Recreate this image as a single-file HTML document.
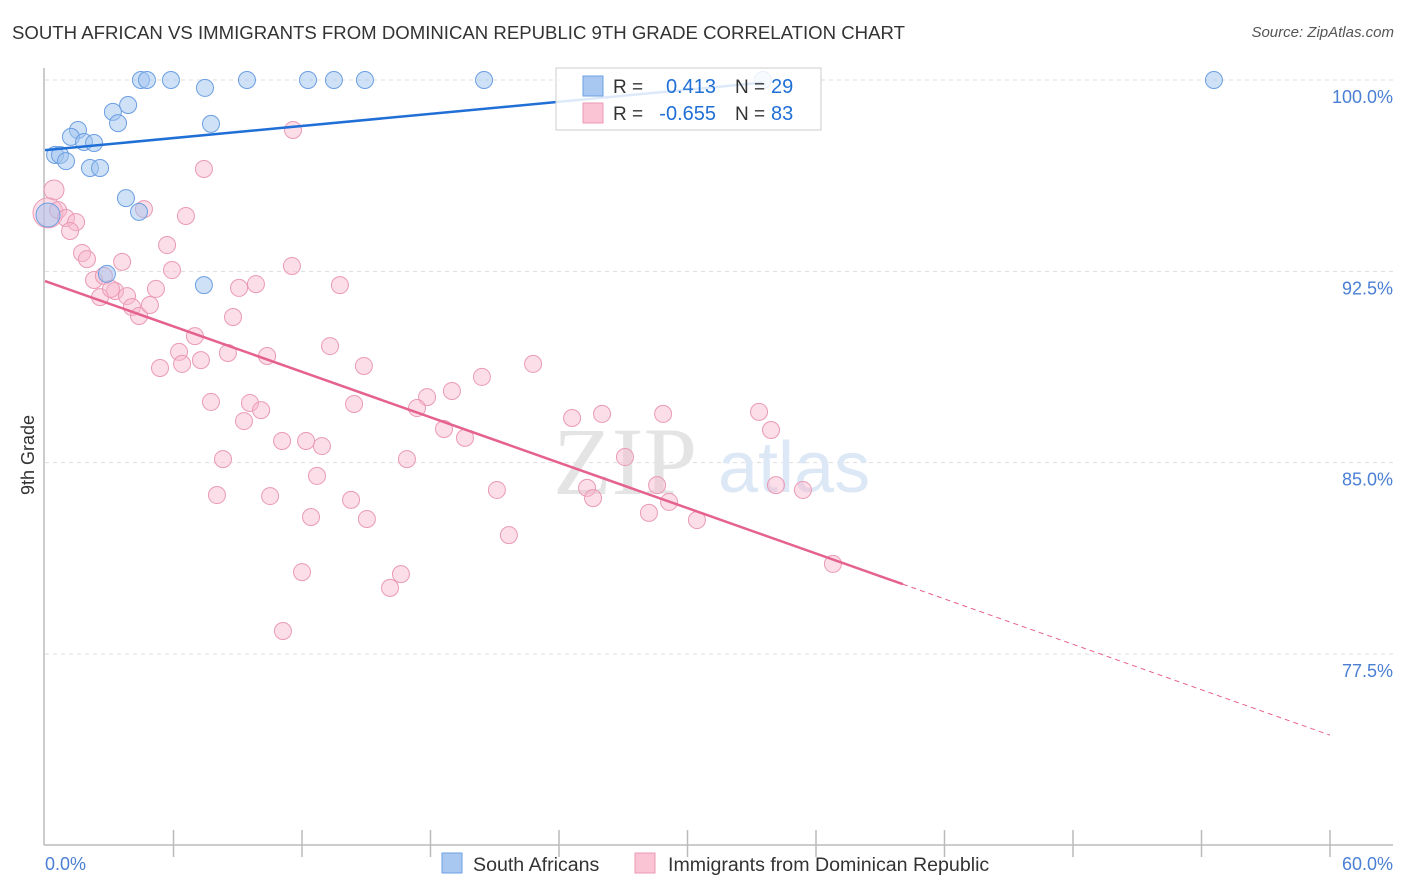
<!DOCTYPE html>
<html><head><meta charset="utf-8"><style>
body{margin:0;background:#fff;font-family:"Liberation Sans",sans-serif;}
#wrap{position:relative;width:1406px;height:892px;overflow:hidden;}
.t{position:absolute;white-space:nowrap;}
</style></head><body>
<div id="wrap">
<div class="t" style="left:12px;top:22px;font-size:18.6px;color:#333;">SOUTH AFRICAN VS IMMIGRANTS FROM DOMINICAN REPUBLIC 9TH GRADE CORRELATION CHART</div>
<div class="t" style="right:12px;top:24px;font-size:15px;color:#555;font-style:italic;">Source: ZipAtlas.com</div>
<svg id="svg" width="1406" height="892" style="position:absolute;left:0;top:0"></svg>
</div>
<script>
const xTicksPct=[0,60];
const yTicks=[100,92.5,85,77.5];
const blueX=[4.48,4.76,5.88,7.47,9.43,12.28,13.49,14.94,20.50,33.52,54.58,3.88,3.17,3.41,7.75,1.54,1.21,1.82,2.29,0.47,0.70,0.98,2.10,2.57,3.78,4.39,0.14,2.89,7.42];
const blueY=[100,100,100,99.69,100,100,100,100,100,100,100,99.02,98.75,98.31,98.28,98.04,97.77,97.57,97.53,97.06,97.06,96.82,96.55,96.55,95.37,94.83,94.71,92.40,91.96];
const pinkX=[0.42,0.14,0.61,0.98,1.45,1.17,4.62,11.58,7.42,6.58,5.70,1.73,1.96,3.60,5.93,11.53,2.29,2.75,3.27,2.57,3.08,3.83,4.06,4.39,4.90,5.18,9.06,9.85,13.77,8.78,7.00,6.26,5.37,6.40,7.28,8.54,10.37,13.31,14.89,22.79,20.40,19.00,17.84,17.37,14.43,7.75,9.57,10.09,9.29,11.07,12.19,12.93,18.63,19.61,24.61,26.01,28.86,33.34,33.90,8.31,16.90,27.08,12.70,8.03,10.51,14.29,21.10,25.31,25.59,28.58,29.14,34.13,35.39,12.42,15.03,28.20,30.44,21.66,12.00,16.62,16.11,36.79,11.11];
const pinkY=[95.69,94.79,94.90,94.59,94.43,94.08,94.94,98.04,96.51,94.67,93.53,93.22,92.98,92.87,92.55,92.71,92.16,92.32,91.73,91.49,91.81,91.53,91.10,90.75,91.18,91.81,91.85,92.00,91.96,90.71,89.96,89.34,88.71,88.87,89.02,89.30,89.18,89.57,88.79,88.87,88.36,87.81,87.57,87.14,87.30,87.38,87.34,87.06,86.63,85.85,85.85,85.65,86.32,85.97,86.75,86.91,86.91,86.99,86.28,85.14,85.14,85.22,84.48,83.73,83.69,83.54,83.93,84.01,83.61,84.12,83.46,84.12,83.93,82.87,82.79,83.03,82.75,82.16,80.71,80.63,80.09,81.03,78.40];
const blueBig=[26];
const pinkBig=[0,1];
const blueFit=[97.25,0.079,33.5];
const pinkFit=[92.12,-0.2967,40.06,60];
const legendR=['0.413','-0.655'];
const legendN=['29','83'];

const NS="http://www.w3.org/2000/svg";
const svg=document.getElementById('svg');
const X=v=>45+v*1285/60;
const Y=v=>80+(100-v)*25.51;
function mk(tag,at){const e=document.createElementNS(NS,tag);for(const k in at)e.setAttribute(k,at[k]);svg.appendChild(e);return e;}
yTicks.forEach(t=>{
 const g=mk('line',{x1:45,x2:1393,y1:Y(t),y2:Y(t),stroke:'#ddd','stroke-dasharray':'4,4'});
 
 
 const tx=mk('text',{x:1393,y:Y(t)+23,'text-anchor':'end','font-size':18,fill:'#4a7fd4','font-family':'Liberation Sans'});
 tx.textContent=t.toFixed(1)+'%';
 
 
});
const ax=mk('line',{x1:44,x2:44,y1:68,y2:845,stroke:'#bbb','stroke-width':1.5});


const bx=mk('line',{x1:44,x2:1393,y1:845,y2:845,stroke:'#bbb','stroke-width':1.5});


for(let i=1;i<=10;i++){const tk=mk('line',{x1:X(i*6),x2:X(i*6),y1:830,y2:857,stroke:'#bbb','stroke-width':1.5});
 
 }
xTicksPct.forEach((t,i)=>{const tx=mk('text',{x:i?1393:45,y:870,'text-anchor':i?'end':'start','font-size':18,fill:'#4a7fd4','font-family':'Liberation Sans'});
 tx.textContent=t.toFixed(1)+'%';
 
 });
const yl=mk('text',{x:34,y:455,transform:'rotate(-90 34 455)','text-anchor':'middle','font-size':18,fill:'#333','font-family':'Liberation Sans'});
yl.textContent='9th Grade';


const w1=mk('text',{x:553,y:494,'font-size':96,fill:'#e4e4e4','font-family':'Liberation Serif'});w1.textContent='ZIP';


const w2=mk('text',{x:718,y:492,'font-size':72,fill:'#dde8f6','font-family':'Liberation Sans'});w2.textContent='atlas';


pinkX.forEach((x,i)=>{const c=mk('circle',{cx:X(x),cy:Y(pinkY[i]),r:pinkBig.includes(i)?(i==1?15:10):8.5,fill:'rgba(248,182,204,0.45)',stroke:'#ea9ab4','stroke-width':1});
 
 });
blueX.forEach((x,i)=>{const c=mk('circle',{cx:X(x),cy:Y(blueY[i]),r:blueBig.includes(i)?12:8.5,fill:'rgba(160,196,240,0.5)',stroke:'#6b9fe2','stroke-width':1});
 
 });
const bl=mk('line',{x1:X(0),y1:Y(blueFit[0]),x2:X(blueFit[2]),y2:Y(blueFit[0]+blueFit[1]*blueFit[2]),stroke:'#1f6fd6','stroke-width':2.5});


const pl=mk('line',{x1:X(0),y1:Y(pinkFit[0]),x2:X(pinkFit[2]),y2:Y(pinkFit[0]+pinkFit[1]*pinkFit[2]),stroke:'#e5628e','stroke-width':2.5});


const pd=mk('line',{x1:X(pinkFit[2]),y1:Y(pinkFit[0]+pinkFit[1]*pinkFit[2]),x2:X(pinkFit[3]),y2:Y(pinkFit[0]+pinkFit[1]*pinkFit[3]),stroke:'#e5628e','stroke-width':1,'stroke-dasharray':'5,4'});


const lg=mk('rect',{x:556,y:68,width:265,height:62,fill:'rgba(255,255,255,0.85)',stroke:'#ccc'});


[[86,'#a8c8f2','#6b9fe2'],[113,'#fbc4d4','#ea9ab4']].forEach((r,i)=>{
 const s=mk('rect',{x:583,y:r[0]-10,width:20,height:20,fill:r[1],stroke:r[2]});
 
 
 const a=mk('text',{x:613,y:r[0]+7,'font-size':19,fill:'#333','font-family':'Liberation Sans'});a.textContent='R =';
 
 
 const b=mk('text',{x:716,y:r[0]+7,'text-anchor':'end','font-size':20,fill:'#1f6fd6','font-family':'Liberation Sans'});b.textContent=legendR[i];
 
 
 const c=mk('text',{x:735,y:r[0]+7,'font-size':19,fill:'#333','font-family':'Liberation Sans'});c.textContent='N =';
 
 
 const d=mk('text',{x:771,y:r[0]+7,'font-size':20,fill:'#1f6fd6','font-family':'Liberation Sans'});d.textContent=legendN[i];
 
 
});
[[442,'#a8c8f2','#6b9fe2',473,'South Africans'],[635,'#fbc4d4','#ea9ab4',668,'Immigrants from Dominican Republic']].forEach(r=>{
 const s=mk('rect',{x:r[0],y:853,width:20,height:20,fill:r[1],stroke:r[2]});
 
 
 const t=mk('text',{x:r[3],y:871,'font-size':19.6,fill:'#333','font-family':'Liberation Sans'});
 t.textContent=r[4];
 
 
});
</script>
</body></html>
